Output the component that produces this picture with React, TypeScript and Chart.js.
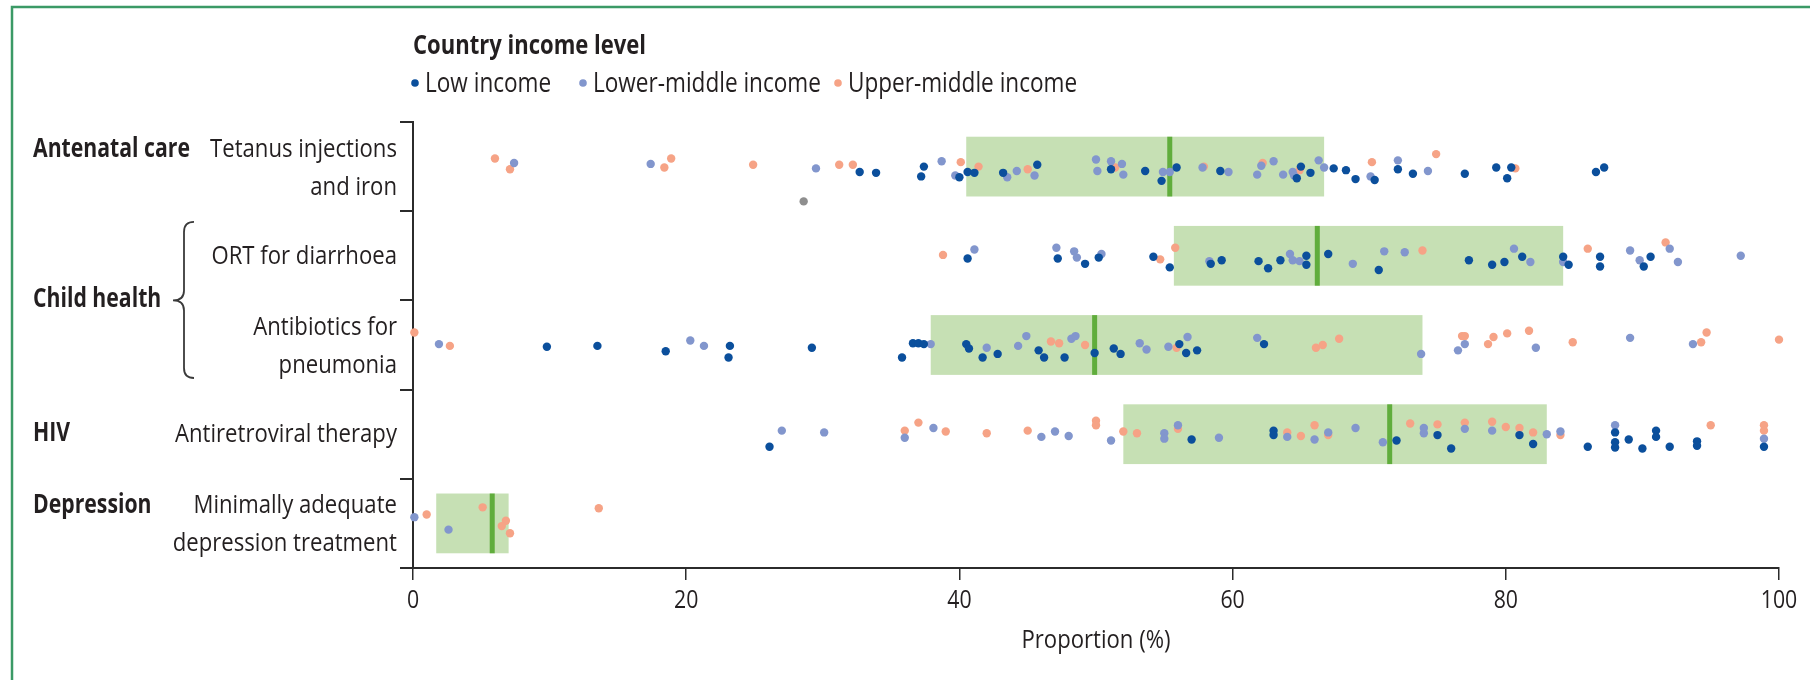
import React, { useEffect, useRef } from "react";
import { Chart, registerables } from "chart.js";

Chart.register(...registerables);

// ---------- DATA ----------
const rowLabels: string[][] = [
  ["Tetanus injections", "and iron"],
  ["ORT for diarrhoea"],
  ["Antibiotics for", "pneumonia"],
  ["Antiretroviral therapy"],
  ["Minimally adequate", "depression treatment"],
];
const groupLabels = ["Antenatal care", "Child health", "HIV", "Depression"];
const groupRows = [0, 1.5, 3, 4];
const seriesNames = ["Low income", "Lower-middle income", "Upper-middle income"];
const xTickValues = [0, 20, 40, 60, 80, 100];
const xTitle = "Proportion (%)";
const legendTitle = "Country income level";

// interquartile boxes and medians per row
const boxLow = [40.5, 55.7, 37.9, 52.0, 1.7];
const boxHigh = [66.7, 84.2, 73.9, 83.0, 7.0];
const medians = [55.4, 66.2, 49.9, 71.5, 5.8];

// [proportion, vertical jitter in row units]
const tetanusLow = [
  [32.7, 0.06], [33.9, 0.07], [37.4, 0], [37.2, 0.11], [40.0, 0.12], [40.6, 0.06], [41.1, 0.07],
  [43.2, 0.07], [45.7, -0.02], [51.1, 0.03], [53.6, 0.05], [54.8, 0.16], [55.9, 0.01], [59.1, 0.05],
  [65.0, 0], [64.7, 0.13], [65.7, 0.07], [67.4, 0.02], [68.3, 0.04], [69.0, 0.14], [70.4, 0.15],
  [72.1, 0.03], [73.2, 0.08], [77.0, 0.08], [79.3, 0.01], [80.4, 0.01], [80.1, 0.13], [86.6, 0.06], [87.2, 0.01],
];
const tetanusLowerMid = [
  [7.4, -0.04], [17.4, -0.03], [29.5, 0.02], [38.7, -0.06], [39.7, 0.1], [43.5, 0.12], [44.2, 0.05],
  [45.5, 0.1], [50.0, -0.08], [50.1, 0.05], [51.1, -0.06], [51.9, -0.03], [52.0, 0.09], [54.9, 0.06],
  [55.4, 0.06], [57.8, 0.01], [59.7, 0.06], [61.8, 0.09], [62.1, -0.01], [63.0, -0.06], [63.7, 0.09],
  [64.4, 0.06], [64.5, 0.1], [66.3, -0.07], [66.7, 0.01], [70.1, 0.11], [72.1, -0.07], [74.3, 0.05],
];
const tetanusUpperMid = [
  [6.0, -0.09], [7.1, 0.03], [18.9, -0.09], [18.4, 0.01], [24.9, -0.02], [31.2, -0.02], [32.2, -0.02],
  [40.1, -0.05], [41.4, 0], [45.0, 0.03], [51.4, 0.01], [57.9, 0], [62.2, -0.04], [64.9, 0.04],
  [70.2, -0.05], [74.9, -0.14], [80.7, 0.02],
];
const tetanusMissing = [[28.6, 0.39]];

const ortLow = [
  [40.6, 0.03], [47.2, 0.03], [49.2, 0.09], [50.2, 0.02], [54.2, 0.01], [55.4, 0.13], [58.4, 0.09],
  [59.2, 0.05], [61.9, 0.06], [62.6, 0.14], [63.5, 0.05], [65.4, 0], [65.4, 0.1], [67.0, -0.02],
  [70.7, 0.16], [77.3, 0.05], [79.0, 0.1], [79.9, 0.07], [81.2, 0.01], [84.2, 0.01], [84.6, 0.1],
  [86.9, 0.01], [86.9, 0.12], [90.1, 0.12], [90.6, 0.01],
];
const ortLowerMid = [
  [41.1, -0.07], [47.1, -0.09], [48.4, -0.05], [48.6, 0.02], [50.4, -0.02], [58.3, 0.06], [64.2, -0.02],
  [64.4, 0.05], [64.9, 0.06], [68.8, 0.09], [71.1, -0.05], [72.6, -0.04], [80.6, -0.08], [81.8, 0.07],
  [84.2, 0.07], [89.1, -0.06], [89.8, 0.05], [92.0, -0.08], [92.6, 0.07], [97.2, 0],
];
const ortUpperMid = [
  [38.8, -0.01], [54.7, 0.04], [55.8, -0.09], [73.9, -0.06], [86.0, -0.08], [91.7, -0.15],
];

const pneumoniaLow = [
  [9.8, 0.02], [13.5, 0.01], [18.5, 0.07], [23.2, 0.01], [23.1, 0.14], [29.2, 0.03], [35.8, 0.14],
  [36.6, -0.02], [37.0, -0.02], [37.4, -0.01], [40.5, -0.01], [40.7, 0.04], [41.7, 0.14], [42.8, 0.1],
  [45.8, 0.06], [46.2, 0.14], [47.7, 0.14], [49.9, 0.09], [51.3, 0.04], [51.8, 0.1], [56.1, -0.01],
  [56.6, 0.09], [57.4, 0.06], [62.3, -0.01],
];
const pneumoniaLowerMid = [
  [1.9, -0.01], [20.3, -0.05], [21.3, 0.01], [37.9, -0.01], [42.0, 0.03], [44.3, 0.01], [44.9, -0.1],
  [48.2, -0.07], [48.5, -0.1], [53.2, -0.02], [53.7, 0.05], [55.3, 0.02], [56.7, -0.09], [61.8, -0.08],
  [73.8, 0.1], [76.5, 0.06], [77.0, -0.01], [82.2, 0.03], [89.1, -0.08], [93.7, -0.01],
];
const pneumoniaUpperMid = [
  [0.1, -0.14], [2.7, 0.01], [46.7, -0.04], [47.3, -0.02], [49.2, 0], [55.9, 0.03], [66.1, 0.03],
  [66.6, 0], [67.8, -0.07], [76.8, -0.1], [77.0, -0.1], [78.7, -0.01], [79.1, -0.09], [80.1, -0.13],
  [81.7, -0.16], [84.9, -0.03], [94.3, -0.03], [94.7, -0.14], [100.0, -0.06],
];

const artLow = [
  [26.1, 0.14], [57.0, 0.06], [63.0, -0.04], [63.0, 0.01], [72.0, 0.07], [75.0, 0.01], [76.0, 0.16],
  [81.0, 0.01], [82.0, 0.11], [86.0, 0.14], [88.0, -0.02], [88.0, 0.09], [88.0, 0.15], [89.0, 0.06],
  [90.0, 0.16], [91.0, -0.04], [91.0, 0.03], [92.0, 0.14], [94.0, 0.08], [94.0, 0.13], [98.9, 0.14],
];
const artLowerMid = [
  [27.0, -0.04], [30.1, -0.02], [36.0, 0.04], [38.1, -0.07], [46.0, 0.03], [47.0, -0.03], [48.0, 0.02],
  [51.1, 0.07], [55.0, -0.01], [55.0, 0.05], [56.0, -0.1], [59.0, 0.04], [64.0, 0.03], [66.0, 0.06],
  [67.0, -0.02], [69.0, -0.07], [71.0, 0.09], [74.0, -0.07], [74.0, -0.01], [77.0, -0.06], [79.0, -0.04],
  [83.0, 0], [84.0, -0.03], [88.0, -0.1], [98.9, 0.05],
];
const artUpperMid = [
  [36.0, -0.04], [37.0, -0.13], [39.0, -0.03], [42.0, -0.01], [45.0, -0.04], [50.0, -0.15], [50.0, -0.1],
  [52.0, -0.03], [53.0, -0.01], [56.0, -0.06], [64.0, -0.02], [65.0, 0.02], [66.0, -0.1], [67.0, 0.01],
  [73.0, -0.12], [75.0, -0.11], [77.0, -0.13], [79.0, -0.14], [80.0, -0.08], [81.0, -0.07], [82.0, -0.02],
  [84.0, 0.01], [95.0, -0.1], [98.9, -0.1], [98.9, -0.04],
];

const depressionLow: number[][] = [];
const depressionLowerMid = [[0.1, -0.07], [2.6, 0.07]];
const depressionUpperMid = [[1.0, -0.1], [5.1, -0.18], [6.8, -0.03], [6.5, 0.03], [7.1, 0.11], [13.6, -0.17]];

const lowIncomeRows = [tetanusLow, ortLow, pneumoniaLow, artLow, depressionLow];
const lowerMidRows = [tetanusLowerMid, ortLowerMid, pneumoniaLowerMid, artLowerMid, depressionLowerMid];
const upperMidRows = [tetanusUpperMid, ortUpperMid, pneumoniaUpperMid, artUpperMid, depressionUpperMid];
const missingRows = [tetanusMissing, [], [], [], []];

// ---------- STYLE ----------
const COLORS = ["#0b4f9c", "#8296cd", "#f6a386"];
const MISSING_COLOR = "#8e8e8e";
const BOX_COLOR = "#c6e0b4";
const MEDIAN_COLOR = "#60ad3c";
const TEXT_COLOR = "#231f20";
const AXIS_COLOR = "#2b2b2b";
const FRAME_COLOR = "#3b9a66";
const FONT = "'Open Sans', 'Noto Sans', sans-serif";

const toPoints = (rows: number[][][]) =>
  rows.flatMap((arr, i) => arr.map(([v, j]) => ({ x: v, y: i + j })));

function drawText(
  ctx: CanvasRenderingContext2D,
  text: string,
  x: number,
  y: number,
  font: string,
  sx: number,
  align: "left" | "right" | "center"
) {
  ctx.save();
  ctx.font = font;
  const w = ctx.measureText(text).width * sx;
  let x0 = x;
  if (align === "right") x0 = x - w;
  else if (align === "center") x0 = x - w / 2;
  ctx.translate(x0, y);
  ctx.scale(sx, 1);
  ctx.textAlign = "left";
  ctx.textBaseline = "alphabetic";
  ctx.fillStyle = TEXT_COLOR;
  ctx.fillText(text, 0, 0);
  ctx.restore();
}

const decorPlugin = {
  id: "decor",
  beforeDatasetsDraw(chart: any) {
    const ctx: CanvasRenderingContext2D = chart.ctx;
    const xs = chart.scales.x;
    const ys = chart.scales.y;
    ctx.save();
    for (let i = 0; i < boxLow.length; i++) {
      const x1 = xs.getPixelForValue(boxLow[i]);
      const x2 = xs.getPixelForValue(boxHigh[i]);
      const yt = ys.getPixelForValue(i - 0.335);
      const yb = ys.getPixelForValue(i + 0.335);
      ctx.fillStyle = BOX_COLOR;
      ctx.fillRect(x1, yt, x2 - x1, yb - yt);
      const xm = xs.getPixelForValue(medians[i]);
      ctx.fillStyle = MEDIAN_COLOR;
      ctx.fillRect(xm - 2.5, yt, 5, yb - yt);
    }
    ctx.restore();
  },
  afterDraw(chart: any) {
    const ctx: CanvasRenderingContext2D = chart.ctx;
    const xs = chart.scales.x;
    const ys = chart.scales.y;
    const area = chart.chartArea;

    // frame
    ctx.save();
    ctx.strokeStyle = FRAME_COLOR;
    ctx.lineWidth = 2.5;
    ctx.beginPath();
    ctx.moveTo(12, chart.height);
    ctx.lineTo(12, 7);
    ctx.lineTo(chart.width, 7);
    ctx.stroke();
    ctx.restore();

    // compression factors to emulate a condensed typeface
    ctx.save();
    ctx.font = `26px ${FONT}`;
    const sxR = 187 / ctx.measureText("Tetanus injections").width;
    ctx.font = `bold 26px ${FONT}`;
    const sxB = 157 / ctx.measureText("Antenatal care").width;
    ctx.restore();

    const fReg = `26px ${FONT}`;
    const fBold = `bold 26px ${FONT}`;
    const labelRight = area.left - 16;

    // row labels
    rowLabels.forEach((lines, i) => {
      const c = ys.getPixelForValue(i);
      if (lines.length === 1) {
        drawText(ctx, lines[0], labelRight, c + 8, fReg, sxR, "right");
      } else {
        drawText(ctx, lines[0], labelRight, c - 10, fReg, sxR, "right");
        drawText(ctx, lines[1], labelRight, c + 28, fReg, sxR, "right");
      }
    });

    // group labels
    groupLabels.forEach((g, k) => {
      const r = groupRows[k];
      const c = ys.getPixelForValue(r);
      const twoLine = Number.isInteger(r) && rowLabels[r].length > 1;
      drawText(ctx, g, 33, twoLine ? c - 10 : c + 7, fBold, sxB, "left");
    });

    // brace for child health
    const bTop = ys.getPixelForValue(0.62);
    const bBot = ys.getPixelForValue(2.37);
    const bMid = ys.getPixelForValue(1.5);
    ctx.save();
    ctx.strokeStyle = "#3a3a3a";
    ctx.lineWidth = 1.8;
    ctx.beginPath();
    const xr = 194, xv = 184, xt = 173;
    ctx.moveTo(xr, bTop);
    ctx.quadraticCurveTo(xv, bTop, xv, bTop + 10);
    ctx.lineTo(xv, bMid - 10);
    ctx.quadraticCurveTo(xv, bMid, xt, bMid);
    ctx.quadraticCurveTo(xv, bMid, xv, bMid + 10);
    ctx.lineTo(xv, bBot - 10);
    ctx.quadraticCurveTo(xv, bBot, xr, bBot);
    ctx.stroke();
    ctx.restore();

    // x tick labels
    xs.ticks.forEach((t: any) => {
      const px = xs.getPixelForValue(t.value);
      drawText(ctx, String(t.value), px, area.bottom + 40, `25px ${FONT}`, sxR, "center");
    });
    // x title
    drawText(ctx, xTitle, (area.left + area.right) / 2, area.bottom + 80, fReg, sxR, "center");

    // legend
    drawText(ctx, legendTitle, area.left, 54, `bold 27px ${FONT}`, sxB, "left");
    const legendX = [area.left + 2, area.left + 170, area.left + 425];
    seriesNames.forEach((name, k) => {
      ctx.save();
      ctx.fillStyle = COLORS[k];
      ctx.beginPath();
      ctx.arc(legendX[k], 83, 3.8, 0, Math.PI * 2);
      ctx.fill();
      ctx.restore();
      drawText(ctx, name, legendX[k] + 10, 92, `26.5px ${FONT}`, sxR, "left");
    });
  },
};

export default function App() {
  const ref = useRef<HTMLCanvasElement | null>(null);

  useEffect(() => {
    if (!ref.current) return;
    const mk = (label: string, rows: number[][][], color: string) => ({
      label,
      data: toPoints(rows),
      backgroundColor: color,
      borderWidth: 0,
      pointRadius: 4.2,
      pointHoverRadius: 4.2,
      clip: false as any,
    });
    const chart = new Chart(ref.current, {
      type: "scatter",
      data: {
        datasets: [
          mk("Missing", missingRows, MISSING_COLOR),
          mk(seriesNames[0], lowIncomeRows, COLORS[0]),
          mk(seriesNames[1], lowerMidRows, COLORS[1]),
          mk(seriesNames[2], upperMidRows, COLORS[2]),
        ],
      },
      options: {
        animation: false,
        responsive: false,
        events: [],
        layout: { padding: { top: 122, right: 31, left: 0, bottom: 0 } },
        plugins: { legend: { display: false }, tooltip: { enabled: false } },
        scales: {
          x: {
            type: "linear",
            min: 0,
            max: 100,
            afterBuildTicks: (s: any) => {
              s.ticks = xTickValues.map((v) => ({ value: v }));
            },
            afterFit: (s: any) => {
              s.height = 112;
            },
            ticks: { display: false },
            grid: {
              drawOnChartArea: false,
              drawTicks: true,
              tickLength: 12,
              color: AXIS_COLOR,
              lineWidth: 1.5,
            },
            border: { display: true, color: AXIS_COLOR, width: 2 },
          },
          y: {
            type: "linear",
            reverse: true,
            min: -0.5,
            max: 4.5,
            afterBuildTicks: (s: any) => {
              s.ticks = [-0.5, 0.5, 1.5, 2.5, 3.5, 4.5].map((v) => ({ value: v }));
            },
            afterFit: (s: any) => {
              s.width = 413;
            },
            ticks: { display: false },
            grid: {
              drawOnChartArea: false,
              drawTicks: true,
              tickLength: 13,
              color: AXIS_COLOR,
              lineWidth: 2,
            },
            border: { display: true, color: AXIS_COLOR, width: 2 },
          },
        },
      },
      plugins: [decorPlugin],
    });
    return () => chart.destroy();
  }, []);

  return (
    <div style={{ position: "absolute", left: 0, top: 0, width: 1810, height: 680, background: "#fff" }}>
      <canvas ref={ref} width={1810} height={680} style={{ display: "block" }} />
    </div>
  );
}
